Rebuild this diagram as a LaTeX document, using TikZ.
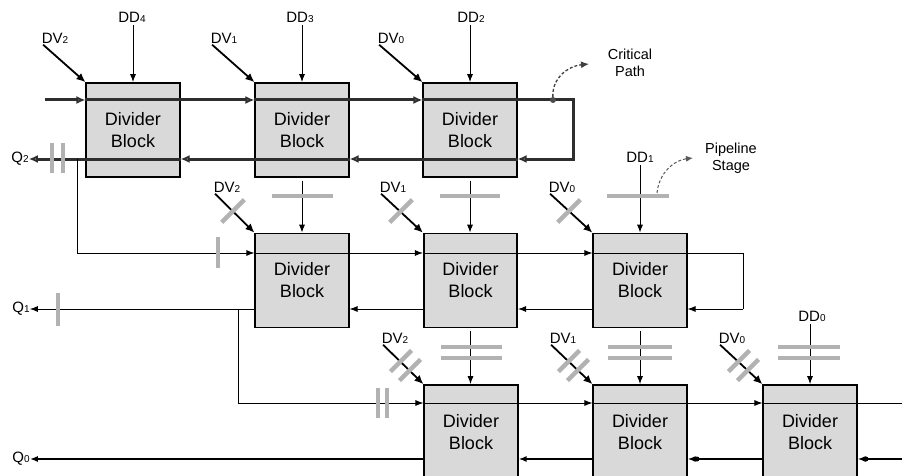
\documentclass[tikz,border=0pt]{standalone}
\usepackage{fontspec}
\setmainfont{Liberation Sans}
\usetikzlibrary{arrows.meta}
\newcommand\lb[2]{#1{\fontsize{10}{10}\selectfont #2}}
\begin{document}
\begin{tikzpicture}[x=1pt,y=-1pt,
  blk/.style={draw=black, line width=1.6pt, fill=gray!30, minimum width=93.5pt, minimum height=94pt, inner sep=0pt, align=center, font=\fontsize{18}{22}\selectfont},
  lab/.style={font=\fontsize{15}{15}\selectfont, inner sep=0pt},
  ann/.style={font=\fontsize{14.5}{17}\selectfont, inner sep=0pt, align=center},
  critline/.style={line width=3pt, black!82},
  carr/.style={-{Latex[length=9pt,width=8pt,fill=gray!70]}},
  thinl/.style={line width=0.9pt, draw=black},
  botl/.style={line width=1.6pt, draw=black},
  tarr/.style={-{Latex[length=8pt,width=6pt]}},
  dvarr/.style={line width=1.8pt, draw=black, -{Latex[length=9pt,width=8pt]}, shorten <=2pt},
  ddarr/.style={line width=1pt, draw=black, -{Latex[length=8pt,width=6pt]}, shorten <=3pt},
  vreg/.style={fill=gray!60, inner sep=0pt, minimum width=4.5pt},
  hreg/.style={fill=gray!60, inner sep=0pt, minimum height=4.5pt},
  dreg/.style={fill=gray!60, inner sep=0pt, minimum height=4.5pt, minimum width=32pt, rotate=45},
  dotn/.style={circle, fill=black, inner sep=0pt, minimum size=5pt}
]
\useasboundingbox (0,0) rectangle (902,476);

% blocks
\node[blk] (b1) at (133,130) {Divider\\Block};
\node[blk] (b2) at (302,130) {Divider\\Block};
\node[blk] (b3) at (470,130) {Divider\\Block};
\node[blk] (b4) at (302,280.5) {Divider\\Block};
\node[blk] (b5) at (470.5,280.5) {Divider\\Block};
\node[blk] (b6) at (640,280.5) {Divider\\Block};
\node[blk] (b7) at (471,432) {Divider\\Block};
\node[blk] (b8) at (640,432) {Divider\\Block};
\node[blk] (b9) at (810,432) {Divider\\Block};

% labels
\node[lab] (dd4) at (132,17) {\lb{DD}{4}};
\node[lab] (dd3) at (300,17) {\lb{DD}{3}};
\node[lab] (dd2) at (471,17) {\lb{DD}{2}};
\node[lab] (dv2a) at (55,38) {\lb{DV}{2}};
\node[lab] (dv1a) at (224,38) {\lb{DV}{1}};
\node[lab] (dv0a) at (391,38) {\lb{DV}{0}};
\node[lab] (dd1) at (640,157) {\lb{DD}{1}};
\node[lab] (dv2b) at (227,187) {\lb{DV}{2}};
\node[lab] (dv1b) at (393,187) {\lb{DV}{1}};
\node[lab] (dv0b) at (562,187) {\lb{DV}{0}};
\node[lab] (dd0) at (812,316) {\lb{DD}{0}};
\node[lab] (dv2c) at (395,338) {\lb{DV}{2}};
\node[lab] (dv1c) at (563,338) {\lb{DV}{1}};
\node[lab] (dv0c) at (732,338) {\lb{DV}{0}};
\node[lab] (q2) at (20,159) {\lb{Q}{2}};
\node[lab] (q1) at (21,309) {\lb{Q}{1}};
\node[lab] (q0) at (21,459) {\lb{Q}{0}};
\node[ann] (crt) at (630,63) {Critical\\Path};
\node[ann] (pst) at (731,158) {Pipeline\\Stage};

% row 1 inputs
\draw[ddarr] (b1.north |- dd4.south) -- (b1.north);
\draw[ddarr] (b2.north |- dd3.south) -- (b2.north);
\draw[ddarr] (b3.north |- dd2.south) -- (b3.north);
\draw[dvarr] (dv2a.south west) -- (b1.north west);
\draw[dvarr] (dv1a.south west) -- (b2.north west);
\draw[dvarr] (dv0a.south west) -- (b3.north west);

% critical path (row 1)
\coordinate (c0) at (45,100);
\coordinate (cr) at (573,100);
\coordinate (crb) at (573,159);
\draw[critline,carr] (c0) -- (c0 -| b1.west);
\draw[critline,carr] (c0 -| b1.west) -- (c0 -| b2.west);
\draw[critline,carr] (c0 -| b2.west) -- (c0 -| b3.west);
\draw[critline,line join=miter] (c0 -| b3.west) -- (cr) -- (crb) -- ([xshift=-6pt]crb);
\draw[critline,carr] (crb) -- (crb -| b3.east);
\draw[critline,carr] (crb -| b3.east) -- (crb -| b2.east);
\draw[critline,carr] (crb -| b2.east) -- (crb -| b1.east);
\draw[critline,carr] (crb -| b1.east) -- (q2.east);
\node[dotn, fill=black!70, minimum size=6pt] (cdot) at (553,100) {};
\coordinate (ctip) at (589,64);
\draw[line width=1.3pt, black!75, densely dashed, -{Latex[length=8pt,width=7pt]}] (cdot) .. controls (552,78) and (568,66) .. (ctip);
\node[vreg, minimum height=30pt] (rq2a) at (52,158) {};
\node[vreg, minimum height=30pt] (rq2b) at (63,158) {};

% row 1 -> row 2 verticals
\draw[ddarr] (b2.south) -- (b4.north);
\draw[ddarr] (b3.south) -- (b3.south |- b5.north);
\draw[ddarr] (b6.north |- dd1.south) -- (b6.north);
\node[hreg, minimum width=61pt] (h1) at (302,196) {};
\node[hreg, minimum width=60pt] (h2) at (470,196) {};
\node[hreg, minimum width=62pt] (h3) at (638,196) {};
\coordinate (ps0) at (657,193);
\coordinate (ps1) at (693,158);
\draw[line width=1pt, black!65, densely dashed, -{Latex[length=7pt,width=6pt]}] (ps0) .. controls (659,172) and (675,160) .. (ps1);

% row 2 inputs
\draw[dvarr] (dv2b.south west) -- (b4.north west);
\draw[dvarr] (dv1b.south west) -- (b5.north west);
\draw[dvarr] (dv0b.south west) -- (b6.north west);
\node[dreg] (dg1) at (233,211) {};
\node[dreg] (dg2) at (401,211) {};
\node[dreg] (dg3) at (569,211) {};

% row 2 lines
\coordinate (j1) at (77,159);
\coordinate (j1b) at (77,253);
\coordinate (l2) at (743,253);
\coordinate (l2b) at (743,309);
\draw[thinl] (j1) -- (j1b);
\draw[thinl,tarr] (j1b) -- (j1b -| b4.west);
\draw[thinl,tarr] (j1b -| b4.west) -- (j1b -| b5.west);
\draw[thinl,tarr] (j1b -| b5.west) -- (j1b -| b6.west);
\draw[thinl] (j1b -| b6.west) -- (l2) -- (l2b);
\draw[thinl,tarr] (l2b) -- (l2b -| b6.east);
\draw[thinl,tarr] (l2b -| b6.west) -- (l2b -| b5.east);
\draw[thinl,tarr] (l2b -| b5.west) -- (l2b -| b4.east);
\draw[thinl,tarr] (l2b -| b4.west) -- (q1.east);
\node[vreg, minimum height=31pt] (rj1) at (218,252.5) {};
\node[vreg, minimum height=33pt] (rq1) at (58,309.5) {};

% row 2 -> row 3 verticals
\draw[ddarr] (b5.south) -- (b5.south |- b7.north);
\draw[ddarr] (b6.south) -- (b8.north);
\draw[ddarr] (b9.north |- dd0.south) -- (b9.north);
\node[hreg, minimum width=61pt] (h4a) at (471,347) {};
\node[hreg, minimum width=61pt] (h4b) at (471,358) {};
\node[hreg, minimum width=64pt] (h5a) at (640,347) {};
\node[hreg, minimum width=64pt] (h5b) at (640,358) {};
\node[hreg, minimum width=62pt] (h6a) at (809,347) {};
\node[hreg, minimum width=62pt] (h6b) at (809,358) {};

% row 3 inputs
\draw[dvarr] (dv2c.south west) -- (b7.north west);
\draw[dvarr] (dv1c.south west) -- (b8.north west);
\draw[dvarr] (dv0c.south west) -- (b9.north west);
\node[dreg, minimum width=30pt] (dg4) at (401,361) {};
\node[dreg, minimum width=30pt] (dg5) at (410,370) {};
\node[dreg, minimum width=30pt] (dg6) at (569,361) {};
\node[dreg, minimum width=30pt] (dg7) at (578,370) {};
\node[dreg, minimum width=30pt] (dg8) at (739,361) {};
\node[dreg, minimum width=30pt] (dg9) at (748,370) {};

% row 3 lines
\coordinate (j2) at (238,309);
\coordinate (j2b) at (238,403);
\coordinate (e3) at (902,403);
\coordinate (e3b) at (902,459);
\draw[thinl] (j2) -- (j2b);
\draw[thinl,tarr] (j2b) -- (j2b -| b7.west);
\draw[thinl,tarr] (j2b -| b7.west) -- (j2b -| b8.west);
\draw[thinl,tarr] (j2b -| b8.west) -- (j2b -| b9.west);
\draw[thinl] (j2b -| b9.west) -- (e3);
\draw[botl,tarr] (e3b) -- (e3b -| b9.east);
\draw[botl,tarr] (e3b -| b9.west) -- (e3b -| b8.east);
\draw[botl,tarr] (e3b -| b8.west) -- (e3b -| b7.east);
\draw[botl,tarr] (e3b -| b7.west) -- (q0.east);
\node[dotn] (dt1) at (697,459) {};
\node[dotn] (dt2) at (866,459) {};
\node[vreg, minimum height=30pt] (rj2a) at (378,403) {};
\node[vreg, minimum height=30pt] (rj2b) at (387,403) {};
\end{tikzpicture}
\end{document}
